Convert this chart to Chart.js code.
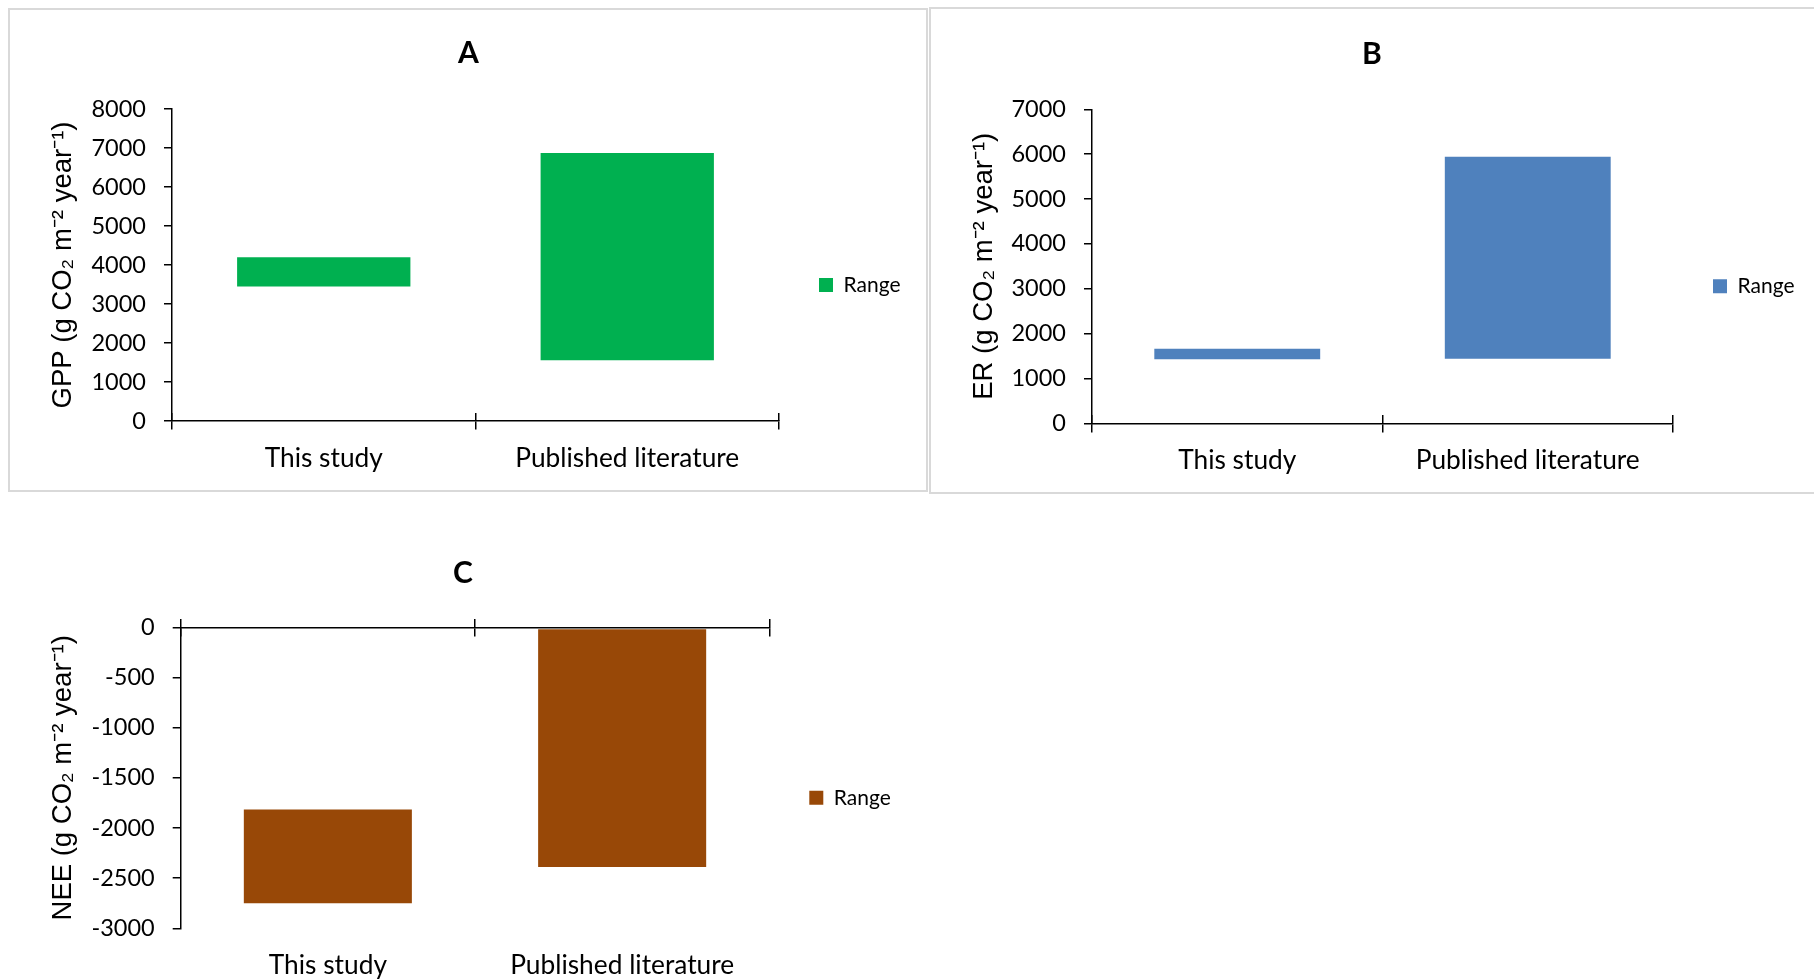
<!DOCTYPE html>
<html><head><meta charset="utf-8">
<script src="https://cdn.jsdelivr.net/npm/chart.js"></script>
<style>
html,body{margin:0;padding:0;background:#fff;width:1814px;height:980px;overflow:hidden;}
body{position:relative;}
.frame{position:absolute;border:2px solid #d9d9d9;box-sizing:border-box;}
canvas{position:absolute;}
</style></head><body>
<div class="frame" style="left:8px;top:8px;width:920px;height:484px"></div>
<div class="frame" style="left:929px;top:7px;width:890px;height:487px"></div>
<canvas id="cA" width="919" height="482" style="left:9px;top:9px"></canvas>
<canvas id="cB" width="884" height="484" style="left:930px;top:9px"></canvas>
<canvas id="cC" width="908" height="480" style="left:9px;top:500px"></canvas>
<script>
// ---- data ----
const categories = ['This study', 'Published literature'];
const seriesName = 'Range';
const gppRange = [[3450, 4200], [1560, 6870]];
const erRange  = [[1430, 1660], [1440, 5940]];
const neeRange = [[-2750, -1815], [-2390, -20]];
const gppTicks = [0, 1000, 2000, 3000, 4000, 5000, 6000, 7000, 8000];
const erTicks  = [0, 1000, 2000, 3000, 4000, 5000, 6000, 7000];
const neeTicks = [-3000, -2500, -2000, -1500, -1000, -500, 0];
const panelTitles = ['A', 'B', 'C'];
const yTitles = ['GPP (g CO\u2082 m\u207B\u00B2 year\u207B\u00B9)', 'ER (g CO\u2082 m\u207B\u00B2 year\u207B\u00B9)', 'NEE (g CO\u2082 m\u207B\u00B2 year\u207B\u00B9)'];
const colors = ['#00B050', '#4F81BD', '#984807'];

const fixLegend = {
  id: 'fixLegend',
  beforeLayout(chart, args, opts) {
    const lg = chart.legend;
    if (lg && opts && opts.width && !lg.__fixed) {
      const f = lg.fit;
      lg.fit = function () { f.call(this); this.width = opts.width; };
      lg.__fixed = true;
    }
  }
};

function makeChart(id, o) {
  return new Chart(document.getElementById(id), {
    type: 'bar',
    data: {
      labels: categories,
      datasets: [{
        label: seriesName, data: o.data, backgroundColor: o.color, borderWidth: 0,
        barPercentage: 1, categoryPercentage: 0.571, xAxisID: 'x', yAxisID: 'y'
      }]
    },
    options: {
      responsive: false, animation: false, events: [],
      layout: { padding: 0 },
      plugins: {
        title: {
          display: true, text: o.title, color: '#000',
          font: { family: 'Lato', size: 30, weight: 'bold', lineHeight: 1.2 },
          padding: { top: o.titleTop, bottom: o.titleBottom }
        },
        legend: {
          position: 'right', fullSize: false, align: 'center',
          labels: { boxWidth: 14, boxHeight: 14, padding: 40, color: '#000', font: { family: 'Lato', size: 21 } },
          title: { display: true, text: ' ', font: { size: 10, lineHeight: 1.2 }, padding: { top: 28, bottom: 0 } }
        },
        tooltip: { enabled: false },
        fixLegend: { width: o.legendWidth }
      },
      scales: {
        y: {
          type: 'linear', position: 'left',
          min: o.ticks[0], max: o.ticks[o.ticks.length - 1],
          afterBuildTicks: s => { s.ticks = o.ticks.map(v => ({ value: v })); },
          grid: { drawOnChartArea: false, drawTicks: true, tickLength: 8, color: '#000', lineWidth: 1.5 },
          border: { display: true, color: '#000', width: 1.5 },
          ticks: { color: '#000', font: { family: 'Lato', size: 23.5 }, padding: 18, callback: v => String(v) },
          title: {
            display: true, text: o.yTitle, color: '#000',
            font: { family: 'Liberation Sans', size: 27.5, lineHeight: 1.2 },
            padding: { top: 37.5, bottom: 0 }
          },
          afterFit: s => { s.width = o.yWidth; }
        },
        x: {
          type: 'category', position: { y: 0 }, offset: true,
          grid: { display: true, offset: true, drawOnChartArea: false, drawTicks: true, tickLength: 8, color: '#000', lineWidth: 1.5 },
          border: { display: true, color: '#000', width: 1.5 },
          ticks: { display: false }
        },
        xUp: {
          type: 'category', position: { y: 0 }, offset: true,
          grid: { display: true, offset: true, drawOnChartArea: false, drawTicks: true, tickLength: -8, color: '#000', lineWidth: 1.5 },
          border: { display: false },
          ticks: { display: false }
        },
        xl: {
          type: 'category', position: 'bottom', offset: true,
          grid: { display: false, drawTicks: false },
          border: { display: false },
          ticks: { color: '#000', font: { family: 'Lato', size: 26.3 }, padding: o.xlPad, maxRotation: 0, autoSkip: false },
          afterFit: s => { s.height = o.xlHeight; }
        }
      }
    },
    plugins: [fixLegend]
  });
}

function build() {
  makeChart('cA', { data: gppRange, color: colors[0], title: panelTitles[0], yTitle: yTitles[0], ticks: gppTicks,
    titleTop: 26.5, titleBottom: 37.5, yWidth: 163, xlHeight: 70, xlPad: 21.8, legendWidth: 149 });
  makeChart('cB', { data: erRange, color: colors[1], title: panelTitles[1], yTitle: yTitles[1], ticks: erTicks,
    titleTop: 27.5, titleBottom: 36.8, yWidth: 162, xlHeight: 69.7, xlPad: 21.8, legendWidth: 141 });
  makeChart('cC', { data: neeRange, color: colors[2], title: panelTitles[2], yTitle: yTitles[2], ticks: neeTicks,
    titleTop: 55, titleBottom: 36.3, yWidth: 171.7, xlHeight: 51.7, xlPad: 21, legendWidth: 147.7 });
}

const fontLoads = ['23px Lato', 'bold 30px Lato', '27px "Liberation Sans"'].map(f => document.fonts.load(f).catch(() => null));
Promise.all(fontLoads).then(build, build);
</script>
</body></html>
